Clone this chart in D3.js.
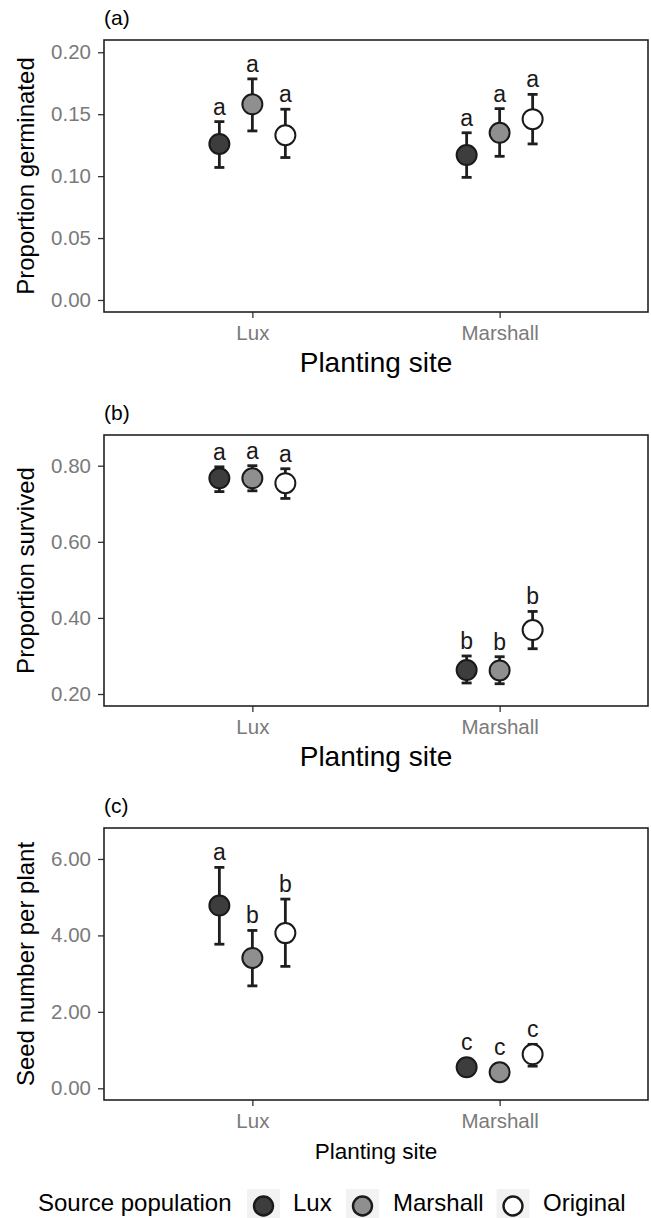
<!DOCTYPE html>
<html>
<head>
<meta charset="utf-8">
<script src="https://cdn.jsdelivr.net/npm/d3@7"></script>
<style>
  body { margin: 0; background: #fff; }
  text { font-family: "Liberation Sans", Arial, sans-serif; }
</style>
</head>
<body>
<svg id="fig"></svg>
<script>
// planting sites and source populations
const sites = ["Lux", "Marshall"];
const sources = ["Lux", "Marshall", "Original"];
const fills = ["#3d3d3d", "#8f8f8f", "#ffffff"];

// (a) proportion germinated, order: site x source
const germMean = [0.126, 0.158, 0.133, 0.117, 0.135, 0.146];
const germLow = [0.107, 0.1365, 0.115, 0.099, 0.116, 0.126];
const germHigh = [0.144, 0.1785, 0.154, 0.135, 0.1545, 0.166];
const germLetters = ["a", "a", "a", "a", "a", "a"];
const germTicks = [0, 0.05, 0.10, 0.15, 0.20];

// (b) proportion survived
const survMean = [0.767, 0.767, 0.754, 0.263, 0.262, 0.368];
const survLow = [0.732, 0.734, 0.714, 0.229, 0.227, 0.319];
const survHigh = [0.797, 0.800, 0.792, 0.300, 0.298, 0.417];
const survLetters = ["a", "a", "a", "b", "b", "b"];
const survTicks = [0.2, 0.4, 0.6, 0.8];

// (c) seed number per plant
const seedMean = [4.78, 3.41, 4.06, 0.55, 0.42, 0.89];
const seedLow = [3.77, 2.68, 3.19, 0.37, 0.25, 0.58];
const seedHigh = [5.78, 4.13, 4.95, 0.73, 0.59, 1.15];
const seedLetters = ["a", "b", "b", "c", "c", "c"];
const seedTicks = [0, 2, 4, 6];

let W = 651, H = 1218;
let left = 104, right = 648;

let svg = d3.select("#fig")
    .attr("width", W)
    .attr("height", H);

let x = d3.scalePoint()
    .domain(sites)
    .range([left, right])
    .padding(0.6);

let dodge = d3.scalePoint()
    .domain(sources)
    .range([-33, 33]);

function rows(mean, low, high, letters) {
    let out = [];
    sites.forEach((s, i) => {
        sources.forEach((p, j) => {
            let k = i * sources.length + j;
            out.push({site: s, source: p, fill: fills[j], mean: mean[k], low: low[k], high: high[k], letter: letters[k]});
        });
    });
    return out;
}

function panel(opt) {
    let g = svg.append("g");
    let top = opt.top, bottom = opt.bottom;

    let y = d3.scaleLinear()
        .domain(opt.domain)
        .range([bottom, top]);

    // panel tag
    g.append("text")
        .attr("x", left)
        .attr("y", top - 15)
        .style("font-size", "21px")
        .text(opt.tag);

    // y axis
    let yAxis = g.append("g")
        .attr("transform", `translate(${left},0)`)
        .call(d3.axisLeft(y).tickValues(opt.ticks).tickFormat(d3.format(".2f")).tickSize(6).tickPadding(7));
    yAxis.select(".domain").remove();
    yAxis.selectAll("line").attr("stroke", "#333").attr("stroke-width", 1.3);
    yAxis.selectAll("text")
        .attr("fill", "#7a7a7a")
        .style("font-size", "20.5px")
        .style("font-family", "Liberation Sans, Arial, sans-serif");

    // x axis
    let xAxis = g.append("g")
        .attr("transform", `translate(0,${bottom})`)
        .call(d3.axisBottom(x).tickSize(6).tickPadding(7));
    xAxis.select(".domain").remove();
    xAxis.selectAll("line").attr("stroke", "#333").attr("stroke-width", 1.3);
    xAxis.selectAll("text")
        .attr("fill", "#7a7a7a")
        .style("font-size", "20.5px")
        .style("font-family", "Liberation Sans, Arial, sans-serif");

    // panel border
    g.append("rect")
        .attr("x", left)
        .attr("y", top)
        .attr("width", right - left)
        .attr("height", bottom - top)
        .attr("fill", "none")
        .attr("stroke", "#222")
        .attr("stroke-width", 1.6);

    // axis titles
    g.append("text")
        .attr("transform", `translate(34,${(top + bottom) / 2}) rotate(-90)`)
        .attr("text-anchor", "middle")
        .style("font-size", "24px")
        .text(opt.ylab);

    g.append("text")
        .attr("x", (left + right) / 2)
        .attr("y", bottom + opt.xlabOffset)
        .attr("text-anchor", "middle")
        .style("font-size", opt.xlabSize)
        .text("Planting site");

    let data = rows(opt.mean, opt.low, opt.high, opt.letters);
    let cx = d => x(d.site) + dodge(d.source);

    // error bars
    let eb = g.append("g")
        .attr("stroke", "#1e1e1e")
        .attr("stroke-width", 2.8);
    eb.selectAll(".v").data(data).join("line")
        .attr("x1", cx).attr("x2", cx)
        .attr("y1", d => y(d.low)).attr("y2", d => y(d.high));
    eb.selectAll(".t").data(data).join("line")
        .attr("x1", d => cx(d) - 5).attr("x2", d => cx(d) + 5)
        .attr("y1", d => y(d.high)).attr("y2", d => y(d.high));
    eb.selectAll(".b").data(data).join("line")
        .attr("x1", d => cx(d) - 5).attr("x2", d => cx(d) + 5)
        .attr("y1", d => y(d.low)).attr("y2", d => y(d.low));

    // points
    g.append("g").selectAll("circle").data(data).join("circle")
        .attr("cx", cx)
        .attr("cy", d => y(d.mean))
        .attr("r", 10)
        .attr("fill", d => d.fill)
        .attr("stroke", "#1a1a1a")
        .attr("stroke-width", 2);

    // significance letters
    g.append("g").selectAll("text").data(data).join("text")
        .attr("x", cx)
        .attr("y", d => Math.min(y(d.high), y(d.mean) - 10) - 7)
        .attr("text-anchor", "middle")
        .style("font-size", "23px")
        .attr("fill", "#1a1a1a")
        .text(d => d.letter);
}

panel({tag: "(a)", top: 40, bottom: 312, domain: [-0.0097, 0.2099], ticks: germTicks,
    mean: germMean, low: germLow, high: germHigh, letters: germLetters,
    ylab: "Proportion germinated", xlabSize: "28px", xlabOffset: 60});

panel({tag: "(b)", top: 435, bottom: 706, domain: [0.1685, 0.8807], ticks: survTicks,
    mean: survMean, low: survLow, high: survHigh, letters: survLetters,
    ylab: "Proportion survived", xlabSize: "28px", xlabOffset: 60});

panel({tag: "(c)", top: 828, bottom: 1100, domain: [-0.306, 6.81], ticks: seedTicks,
    mean: seedMean, low: seedLow, high: seedHigh, letters: seedLetters,
    ylab: "Seed number per plant", xlabSize: "22.5px", xlabOffset: 59});

// legend
let legend = svg.append("g");
legend.append("text")
    .attr("x", 38)
    .attr("y", 1211)
    .style("font-size", "24px")
    .text("Source population");

let keyX = [263.5, 362.5, 513];
let keyLabelX = [293, 393, 543];
sources.forEach((s, i) => {
    legend.append("rect")
        .attr("x", keyX[i] - 16.5)
        .attr("y", 1189)
        .attr("width", 33)
        .attr("height", 36)
        .attr("fill", "#f2f2f2");
    legend.append("circle")
        .attr("cx", keyX[i])
        .attr("cy", 1206)
        .attr("r", 9.5)
        .attr("fill", fills[i])
        .attr("stroke", "#1a1a1a")
        .attr("stroke-width", 2.4);
    legend.append("text")
        .attr("x", keyLabelX[i])
        .attr("y", 1211)
        .style("font-size", "24px")
        .text(s);
});
</script>
</body>
</html>
